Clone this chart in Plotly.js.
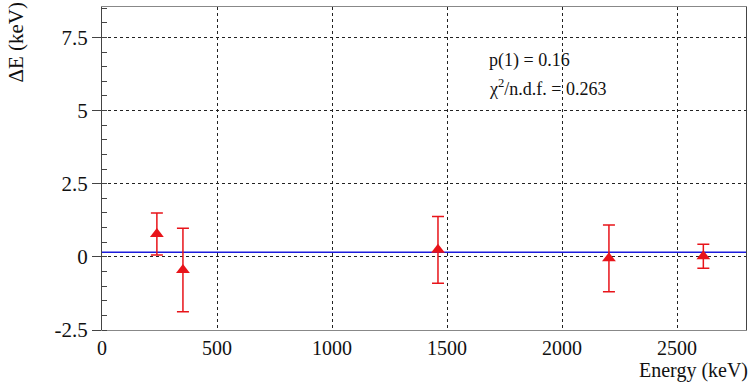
<!DOCTYPE html>
<html>
<head>
<meta charset="utf-8">
<script src="https://cdn.plot.ly/plotly-3.0.1.min.js"></script>
<style>
html,body{margin:0;padding:0;background:#fff;}
#chart{width:750px;height:384px;}
</style>
</head>
<body>
<div id="chart"></div>
<script>
// Data
const energies = [238.6, 351.9, 1460.8, 2204.1, 2614.5];
const deltaE = [0.78, -0.45, 0.24, -0.05, 0.02];
const deltaErr = [0.72, 1.43, 1.14, 1.14, 0.41];
const fitP1 = 0.16;
const fitRange = [0, 2800];
const chi2ndf = 0.263;
const xTicks = [0, 500, 1000, 1500, 2000, 2500];
const yTicks = [-2.5, 0, 2.5, 5, 7.5];

const serif = "'Liberation Serif', 'DejaVu Serif', serif";

const traces = [
  {
    x: fitRange,
    y: fitRange.map(() => fitP1),
    mode: 'lines',
    line: {color: '#1c1cdc', width: 1.5},
    hoverinfo: 'skip',
    showlegend: false
  },
  {
    x: energies,
    y: deltaE,
    mode: 'markers',
    marker: {symbol: 'triangle-up', size: 12, color: '#e8141a'},
    error_y: {type: 'data', array: deltaErr, visible: true, color: '#e8141a', thickness: 1.5, width: 6},
    showlegend: false
  }
];

const layout = {
  width: 750, height: 384,
  margin: {l: 102, r: 4, t: 7, b: 54},
  paper_bgcolor: '#fff', plot_bgcolor: '#fff',
  font: {family: serif, size: 20, color: '#111'},
  xaxis: {
    range: [fitRange[0], fitRange[1]],
    tickvals: xTicks,
    ticktext: xTicks.map(String),
    showgrid: true, gridcolor: '#222', griddash: 'dot', gridwidth: 1,
    zeroline: false,
    showline: true, linecolor: '#888', linewidth: 1, mirror: true,
    ticks: '', ticklabelstandoff: 0,
    tickfont: {family: serif, size: 20, color: '#111'}
  },
  yaxis: {
    range: [-2.5, 8.54],
    tickvals: yTicks,
    ticktext: yTicks.map(String),
    showgrid: true, gridcolor: '#222', griddash: 'dot', gridwidth: 1,
    zeroline: false,
    showline: true, linecolor: '#444', linewidth: 1, mirror: true,
    ticks: 'outside', ticklen: 9, tickcolor: '#444', tickwidth: 1,
    minor: {dtick: 0.5, tick0: -2.5, ticks: 'inside', ticklen: 5, tickcolor: '#444', showgrid: false},
    tickfont: {family: serif, size: 21, color: '#111'}
  },
  annotations: [
    {text: 'p(1) = ' + fitP1, xref: 'paper', yref: 'paper', x: 0.598, y: 0.834,
     xanchor: 'left', yanchor: 'middle', showarrow: false,
     font: {family: serif, size: 18, color: '#111'}},
    {text: '\u03C7<sup>2</sup>/n.d.f. = ' + chi2ndf, xref: 'paper', yref: 'paper', x: 0.598, y: 0.75,
     xanchor: 'left', yanchor: 'middle', showarrow: false,
     font: {family: serif, size: 18, color: '#111'}},
    {text: 'Energy (keV)', xref: 'paper', yref: 'paper', x: 1.005, y: -0.088,
     xanchor: 'right', yanchor: 'top', showarrow: false, borderpad: 0,
     font: {family: serif, size: 20, color: '#111'}},
    {text: '\u0394E (keV)', xref: 'paper', yref: 'paper', x: -0.135, y: 0.89,
     xanchor: 'center', yanchor: 'middle', textangle: -90, showarrow: false,
     font: {family: serif, size: 21, color: '#111'}}
  ]
};

Plotly.newPlot('chart', traces, layout, {displayModeBar: false, staticPlot: true});
</script>
</body>
</html>
